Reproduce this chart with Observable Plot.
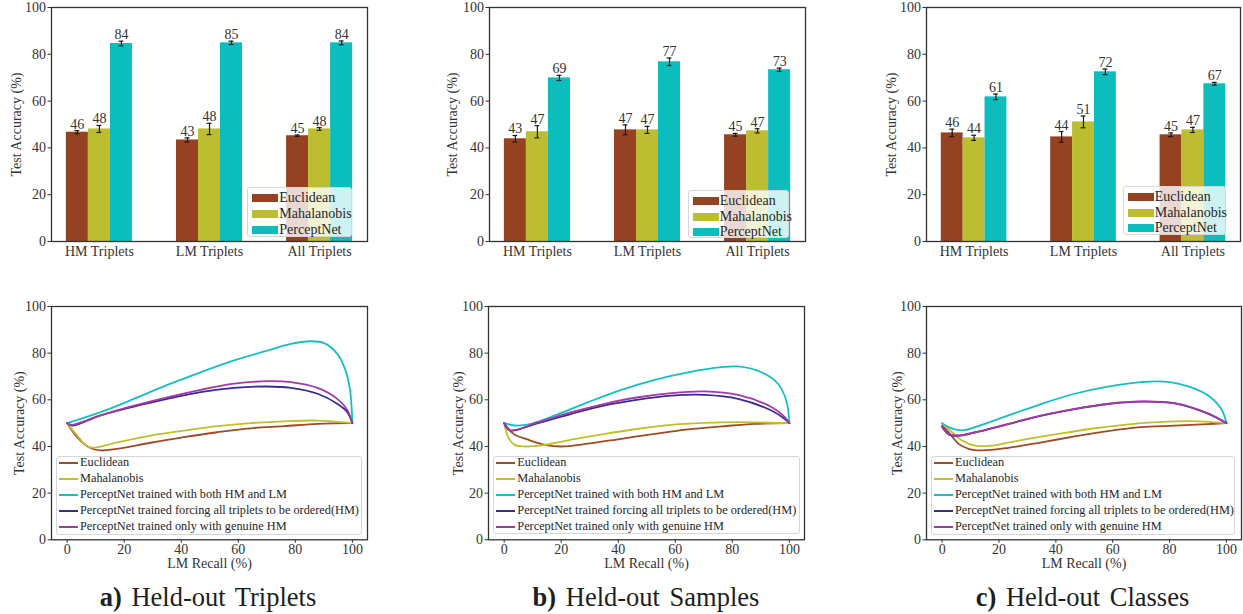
<!DOCTYPE html>
<html><head><meta charset="utf-8">
<script src="https://cdn.jsdelivr.net/npm/d3@7"></script>
<script src="https://cdn.jsdelivr.net/npm/@observablehq/plot@0.6"></script>
<style>
body{margin:0;background:#fff;}
#root{position:relative;width:1243px;height:614px;overflow:hidden;font-family:"Liberation Serif","Times New Roman",serif;color:#262626;background:#fff}
.panel{position:absolute}
.leg{position:absolute;background:rgba(255,255,255,0.8);border:1px solid #d6d6d6;border-radius:3px;box-sizing:border-box;white-space:nowrap;overflow:visible}
.leg .row{display:flex;align-items:center}
.tleg{font-size:14px;padding-top:2px}
.tleg .row{height:15.7px}
.tleg .patch{width:26px;height:8px;margin-left:4px;margin-right:1px;flex:none}
.bleg{font-size:12.3px}
.bleg .inner{position:relative;top:-2px}
.bleg .row{height:16px}
.bleg .sw{width:19px;height:2px;margin-left:2px;margin-right:2px;flex:none}
.cap{position:absolute;font-size:26.5px;line-height:30px;text-align:center;width:320px;color:#1e1e1e;word-spacing:3px}
</style></head><body><div id="root"></div>
<script>
// ---------- data ----------
const groups = ["HM Triplets", "LM Triplets", "All Triplets"];
const methods = ["Euclidean", "Mahalanobis", "PerceptNet"];
const barColors = ["#954222", "#bcbd30", "#0bbdbd"];

// rows: groups, columns: methods
const accA = [[46.7, 48.1, 84.6], [43.4, 48.1, 84.9], [45.2, 48.1, 84.9]];
const errA = [[0.7, 1.5, 1.0], [0.9, 2.4, 0.7], [0.3, 0.6, 0.8]];
const lblA = [[46, 48, 84], [43, 48, 85], [45, 48, 84]];

const accB = [[43.9, 46.9, 69.9], [47.7, 47.7, 76.8], [45.6, 47.3, 73.4]];
const errB = [[1.4, 2.6, 1.1], [2.1, 1.5, 1.6], [0.6, 0.9, 0.7]];
const lblB = [[43, 47, 69], [47, 47, 77], [45, 47, 73]];

const accC = [[46.4, 44.3, 61.8], [44.7, 51.1, 72.5], [45.6, 47.7, 67.4]];
const errC = [[1.6, 1.1, 1.2], [2.3, 2.5, 1.2], [0.8, 1.1, 0.6]];
const lblC = [[46, 44, 61], [44, 51, 72], [45, 47, 67]];

const series = [
  "Euclidean",
  "Mahalanobis",
  "PerceptNet trained with both HM and LM",
  "PerceptNet trained forcing all triplets to be ordered(HM)",
  "PerceptNet trained only with genuine HM"
];
const lineColors = ["#a04a26", "#c2c02a", "#17bfc4", "#3a2a94", "#a43aa6"];

const yTicks = [0, 20, 40, 60, 80, 100];
const xTicks = [0, 20, 40, 60, 80, 100];

// panel a curves [LM recall, test accuracy]
const aEuc = [[0,50],[3.5,44.0],[7.6,39.7],[11.7,38.3],[17.5,39.0],[29.2,41.6],[40.9,44.0],[52.6,46.1],[64.3,47.8],[76.0,48.7],[87.8,49.7],[100,50]];
const aMah = [[0,50],[3.5,44.7],[7.6,39.7],[17.5,41.8],[29.2,44.7],[40.9,46.8],[52.6,48.7],[64.3,50.0],[76.0,50.8],[87.8,51.1],[100,50]];
const aBoth = [[0,50],[11.7,54.7],[23.4,60.4],[35.1,66.4],[46.8,71.8],[58.5,76.9],[70.2,81.1],[78.4,84.0],[85.4,85.1],[90.1,84.3],[94.7,79.7],[97.6,72.6],[99.2,64],[100,50]];
const aForce = [[0,50],[1.7,49],[11.7,53.3],[23.4,57.1],[35.1,60.4],[46.8,63.3],[58.5,65.1],[70.2,65.7],[78.4,65.1],[87.8,62.6],[94.7,58.3],[98.2,54.7],[100,50]];
const aGen = [[0,50],[1.7,49.3],[11.7,53.3],[23.4,57.5],[35.1,61.1],[46.8,64.3],[58.5,66.9],[70.2,68.0],[78.4,67.6],[87.8,65.1],[94.7,60.4],[98.2,55.7],[100,50]];

// panel b curves
const bEuc = [[0,50],[3.3,45.4],[8.4,42.9],[14.3,40.7],[20.1,40.0],[29.4,41.2],[41.1,43.3],[52.8,45.4],[64.5,47.3],[76.2,48.6],[87.9,49.7],[100,50]];
const bMah = [[0,50],[1.4,44.0],[3.7,40.7],[7.2,40.0],[14.3,40.7],[23.6,42.9],[35.3,45.4],[47.0,47.6],[58.6,49.3],[70.3,50.1],[82.0,50.4],[100,50]];
const bBoth = [[0,50],[3.7,49.0],[9.5,49.7],[17.8,53.3],[29.4,59.0],[41.1,64.3],[52.8,68.6],[64.5,71.8],[76.2,74.0],[82.0,74.3],[90.2,71.8],[96.0,66.9],[98.9,59.7],[100,50]];
const bForce = [[0,50],[2.0,46.9],[11.9,50.0],[23.6,54.0],[35.3,57.6],[47.0,60.1],[58.6,61.8],[70.3,62.1],[82.0,60.4],[93.7,55.4],[98.4,51.8],[100,50]];
const bGen = [[0,50],[2.0,46.9],[11.9,50.4],[23.6,54.7],[35.3,58.3],[47.0,61.1],[58.6,62.9],[70.3,63.6],[82.0,62.1],[93.7,56.9],[98.4,52.6],[100,50]];

// panel c curves
const cEuc = [[0,49],[2.3,46.1],[5.8,41.1],[9.3,39.0],[14.0,38.3],[23.3,39.4],[35.0,41.8],[46.6,44.3],[58.3,46.6],[70.0,48.3],[81.7,48.9],[93.3,49.6],[100,50]];
const cMah = [[0,50],[3.5,46.1],[7.0,42.6],[11.6,40.4],[17.5,40.4],[29.1,43.0],[40.8,45.4],[52.4,47.6],[64.1,49.3],[75.7,50.4],[87.4,50.9],[100,50]];
const cBoth = [[0,50],[2.3,48.3],[7.0,46.9],[11.6,48.3],[23.3,53.3],[35.0,58.3],[46.6,62.6],[58.3,65.7],[70.0,67.6],[78.1,67.8],[87.4,65.4],[94.4,61.1],[98.5,55.4],[100,50]];
const cForce = [[0,48.3],[2.3,45.2],[5.8,44.6],[11.6,46.0],[23.3,49.6],[35.0,53.2],[46.6,56.0],[58.3,58.2],[70.0,59.2],[81.7,58.5],[93.3,54.2],[100,50]];
const cGen = [[0,48.6],[2.3,45.4],[5.8,44.7],[11.6,46.1],[23.3,49.7],[35.0,53.3],[46.6,56.1],[58.3,58.3],[70.0,59.3],[81.7,58.6],[93.3,54.3],[100,50]];

const captions = [["a)", "Held-out Triplets"], ["b)", "Held-out Samples"], ["c)", "Held-out Classes"]];

// ---------- layout ----------
const root = document.getElementById("root");
const FONT = '"Liberation Serif","Times New Roman",serif';
const barW = 0.2, capW = 0.022;

function place(el, left, top) {
  el.classList.add("panel");
  el.style.left = left + "px";
  el.style.top = top + "px";
  root.appendChild(el);
}

function dims(frame, mb) {
  const svgLeft = Math.max(0, frame.L - 51);
  const svgTop = frame.T - 7;
  return {
    svgLeft, svgTop,
    marginLeft: frame.L - svgLeft,
    marginTop: frame.T - svgTop,
    marginRight: 2,
    marginBottom: mb,
    width: frame.R - svgLeft + 2,
    height: frame.B - svgTop + mb
  };
}

function barPanel(acc, err, lbl, frame, yOff) {
  const rows = [];
  groups.forEach((g, i) => methods.forEach((m, j) => rows.push({
    m, xc: i + (j - 1) * barW, v: acc[i][j], e: err[i][j], l: String(lbl[i][j])
  })));
  const d = dims(frame, 25);
  const svg = Plot.plot({
    width: d.width, height: d.height,
    marginLeft: d.marginLeft, marginRight: d.marginRight, marginTop: d.marginTop, marginBottom: d.marginBottom,
    style: {fontFamily: FONT, fontSize: "14px", color: "#333", background: "transparent", overflow: "visible"},
    x: {domain: [-0.435, 2.435]},
    y: {domain: [0, 100]},
    color: {domain: methods, range: barColors},
    marks: [
      Plot.rectY(rows, {x1: r => r.xc - barW / 2, x2: r => r.xc + barW / 2, y1: 0, y2: "v", fill: "m", inset: 0}),
      Plot.ruleX(rows, {x: "xc", y1: r => r.v - r.e, y2: r => r.v + r.e, stroke: "#1a1a1a", strokeWidth: 1.2}),
      Plot.ruleY(rows, {x1: r => r.xc - capW, x2: r => r.xc + capW, y: r => r.v - r.e, stroke: "#1a1a1a", strokeWidth: 1.2}),
      Plot.ruleY(rows, {x1: r => r.xc - capW, x2: r => r.xc + capW, y: r => r.v + r.e, stroke: "#1a1a1a", strokeWidth: 1.2}),
      Plot.text(rows, {x: "xc", y: r => r.v + r.e, text: "l", lineAnchor: "bottom", dy: -2, fontSize: 14, fill: "#333"}),
      Plot.axisY({ticks: yTicks, tickSize: 3.5, tickPadding: 2, label: "Test Accuracy (%)", labelAnchor: "center", labelOffset: yOff, labelArrow: "none"}),
      Plot.axisX({ticks: [0, 1, 2], tickFormat: i => groups[i], tickSize: 0, tickPadding: 5, label: null}),
      Plot.frame({stroke: "#333", strokeWidth: 1.3})
    ]
  });
  place(svg, d.svgLeft, d.svgTop);
}

function linePanel(curves, frame, yOff) {
  const rows = [];
  series.forEach((s, k) => curves[k].forEach(([x, y]) => rows.push({s, x, y})));
  const d = dims(frame, 40);
  const svg = Plot.plot({
    width: d.width, height: d.height,
    marginLeft: d.marginLeft, marginRight: d.marginRight, marginTop: d.marginTop, marginBottom: d.marginBottom,
    style: {fontFamily: FONT, fontSize: "14px", color: "#333", background: "transparent", overflow: "visible"},
    x: {domain: [-5.5, 105.3]},
    y: {domain: [0, 100]},
    color: {domain: series, range: lineColors},
    marks: [
      Plot.line(rows, {x: "x", y: "y", z: "s", stroke: "s", strokeWidth: 1.8, curve: "catmull-rom"}),
      Plot.axisY({ticks: yTicks, tickSize: 3.5, tickPadding: 2, label: "Test Accuracy (%)", labelAnchor: "center", labelOffset: yOff, labelArrow: "none"}),
      Plot.axisX({ticks: xTicks, tickSize: 3.5, tickPadding: 1, label: "LM Recall (%)", labelAnchor: "center", labelOffset: 28, labelArrow: "none"}),
      Plot.frame({stroke: "#333", strokeWidth: 1.3})
    ]
  });
  place(svg, d.svgLeft, d.svgTop);
}

function topLegend(left, top, w, h) {
  const el = document.createElement("div");
  el.className = "leg tleg";
  Object.assign(el.style, {left: left + "px", top: top + "px", width: w + "px", height: h + "px"});
  methods.forEach((m, i) => {
    const r = document.createElement("div");
    r.className = "row";
    r.innerHTML = `<span class="patch" style="background:${barColors[i]}"></span><span>${m}</span>`;
    el.appendChild(r);
  });
  root.appendChild(el);
}

function bottomLegend(left, top, w, h) {
  const el = document.createElement("div");
  el.className = "leg bleg";
  Object.assign(el.style, {left: left + "px", top: top + "px", width: w + "px", height: h + "px"});
  const inner = document.createElement("div");
  inner.className = "inner";
  series.forEach((s, i) => {
    const r = document.createElement("div");
    r.className = "row";
    r.innerHTML = `<span class="sw" style="background:${lineColors[i]}"></span><span>${s}</span>`;
    inner.appendChild(r);
  });
  el.appendChild(inner);
  root.appendChild(el);
}

// top row: bar charts
barPanel(accA, errA, lblA, {L: 51, R: 367, T: 7, B: 241}, 40);
barPanel(accB, errB, lblB, {L: 489, R: 805, T: 7, B: 241}, 42);
barPanel(accC, errC, lblC, {L: 926, R: 1240, T: 7, B: 241}, 40);
topLegend(247.3, 187.3, 104.5, 49.4);
topLegend(687.7, 190, 101.6, 48.3);
topLegend(1122.7, 186, 103.3, 49);

// bottom row: curves
linePanel([aEuc, aMah, aBoth, aForce, aGen], {L: 51, R: 367, T: 306, B: 539.3}, 37);
linePanel([bEuc, bMah, bBoth, bForce, bGen], {L: 488, R: 804, T: 306, B: 539.3}, 35);
linePanel([cEuc, cMah, cBoth, cForce, cGen], {L: 926, R: 1241, T: 306, B: 539.3}, 34);
bottomLegend(56, 455.7, 306, 79.3);
bottomLegend(493.3, 455.7, 306.7, 78.6);
bottomLegend(931, 455.7, 304, 79.3);

// captions
[208, 646, 1082.5].forEach((cx, i) => {
  const el = document.createElement("div");
  el.className = "cap";
  el.style.left = (cx - 160) + "px";
  el.style.top = "582px";
  el.innerHTML = `<b>${captions[i][0]}</b> ${captions[i][1]}`;
  root.appendChild(el);
});
</script></body></html>
